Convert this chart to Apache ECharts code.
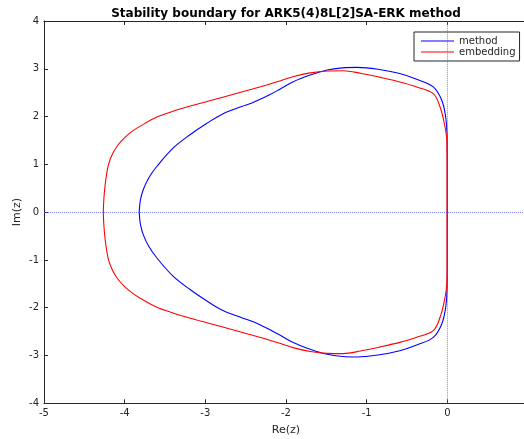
<!DOCTYPE html>
<html>
<head>
<meta charset="utf-8">
<script src="https://cdn.jsdelivr.net/npm/echarts@6/dist/echarts.min.js"></script>
<style>html,body{margin:0;padding:0;background:#fff}#c{width:524px;height:439px}</style>
</head>
<body>
<div id="c"></div>
<script>
const titleText = 'Stability boundary for ARK5(4)8L[2]SA-ERK method';
const xName = 'Re(z)';
const yName = 'Im(z)';
const seriesNames = ['method', 'embedding'];
const xTickLabels = ['-5', '-4', '-3', '-2', '-1', '0'];

// method (blue) boundary, traced around the closed curve
const methodRe = [-3.82, -3.805, -3.77, -3.70, -3.60, -3.40, -3.19, -2.98, -2.78, -2.55, -2.43, -2.32, -2.21, -2.10, -1.91, -1.70, -1.49, -1.30, -1.12, -0.86, -0.59, -0.38, -0.174, -0.069, -0.02, -0.003, 0.0, 0.0,
  0.0, -0.003, -0.02, -0.069, -0.174, -0.38, -0.59, -0.86, -1.12, -1.30, -1.49, -1.70, -1.91, -2.10, -2.21, -2.32, -2.43, -2.55, -2.78, -2.98, -3.19, -3.40, -3.60, -3.70, -3.77, -3.805, -3.82];
const methodIm = [0, 0.25, 0.47, 0.72, 0.96, 1.34, 1.62, 1.86, 2.06, 2.21, 2.28, 2.36, 2.45, 2.55, 2.73, 2.87, 2.975, 3.02, 3.03, 2.99, 2.90, 2.78, 2.62, 2.34, 1.99, 1.62, 1.0, 0.0,
  -1.0, -1.62, -1.99, -2.34, -2.62, -2.78, -2.90, -2.99, -3.03, -3.02, -2.975, -2.87, -2.73, -2.55, -2.45, -2.36, -2.28, -2.21, -2.06, -1.86, -1.62, -1.34, -0.96, -0.72, -0.47, -0.25, 0];

// embedding (red) boundary
const embedRe = [-4.265, -4.258, -4.244, -4.225, -4.20, -4.15, -4.08, -4.00, -3.90, -3.807, -3.60, -3.40, -3.186, -2.98, -2.773, -2.55, -2.317, -2.10, -1.903, -1.70, -1.488, -1.29, -1.075, -0.83, -0.59, -0.38, -0.174, -0.09, -0.037, -0.007, -0.004, -0.004,
  -0.004, -0.007, -0.037, -0.09, -0.174, -0.38, -0.59, -0.83, -1.075, -1.29, -1.488, -1.70, -1.903, -2.10, -2.317, -2.55, -2.773, -2.98, -3.186, -3.40, -3.60, -3.807, -3.90, -4.00, -4.08, -4.15, -4.20, -4.225, -4.244, -4.258, -4.265];
const embedIm = [0, 0.27, 0.54, 0.78, 1.0, 1.22, 1.41, 1.56, 1.70, 1.80, 1.99, 2.11, 2.22, 2.315, 2.41, 2.515, 2.625, 2.735, 2.84, 2.915, 2.955, 2.96, 2.906, 2.82, 2.725, 2.62, 2.48, 2.20, 1.855, 1.505, 1.0, 0,
  -1.0, -1.505, -1.855, -2.20, -2.48, -2.62, -2.725, -2.82, -2.906, -2.96, -2.955, -2.915, -2.84, -2.735, -2.625, -2.515, -2.41, -2.315, -2.22, -2.11, -1.99, -1.80, -1.70, -1.56, -1.41, -1.22, -1.0, -0.78, -0.54, -0.27, 0];

const toPairs = (xs, ys) => xs.map((x, i) => [x, ys[i]]);
const axisColor = '#262626';
const font = 'DejaVu Sans';
const lineIcon = 'path://M0,0 L33,0 L33,1.2 L0,1.2 Z';

const chart = echarts.init(document.getElementById('c'), null, {renderer: 'canvas'});
chart.setOption({
  animation: false,
  backgroundColor: '#fff',
  title: {
    text: titleText, left: 281, top: 3, textAlign: 'center',
    textStyle: {fontFamily: font, fontSize: 12, fontWeight: 'bold', color: '#000'}
  },
  legend: {
    orient: 'vertical', left: 414, top: 32,
    data: seriesNames.map(n => ({name: n, icon: lineIcon})),
    itemWidth: 33, itemHeight: 13, itemGap: 1, padding: [4, 4, 4, 7],
    backgroundColor: '#fff', borderColor: axisColor, borderWidth: 1,
    textStyle: {fontFamily: font, fontSize: 10, color: axisColor}
  },
  grid: {left: 44, top: 21, right: -4, bottom: 35.7, containLabel: false, outerBoundsMode: 'none'},
  xAxis: [{
    type: 'value', min: -5, max: 1, interval: 1,
    name: xName, nameLocation: 'middle', nameGap: 21, nameMoveOverlap: false,
    nameTextStyle: {fontFamily: font, fontSize: 11, color: axisColor},
    axisLine: {show: true, onZero: false, lineStyle: {color: axisColor, width: 1}},
    axisTick: {show: true, inside: true, length: 4, lineStyle: {color: axisColor}},
    axisLabel: {fontFamily: font, fontSize: 10, color: axisColor, margin: 5,
      formatter: v => { const i = Math.round(v + 5); return (i >= 0 && i < xTickLabels.length) ? xTickLabels[i] : ''; }},
    splitLine: {show: false}
  }, {
    type: 'value', min: -5, max: 1, interval: 1, position: 'top',
    axisLine: {show: true, onZero: false, lineStyle: {color: axisColor, width: 1}},
    axisTick: {show: true, inside: true, length: 4, lineStyle: {color: axisColor}},
    axisLabel: {show: false}, splitLine: {show: false}
  }],
  yAxis: [{
    type: 'value', min: -4, max: 4, interval: 1,
    name: yName, nameLocation: 'middle', nameGap: 21, nameRotate: 90, nameMoveOverlap: false,
    nameTextStyle: {fontFamily: font, fontSize: 11, color: axisColor},
    axisLine: {show: true, onZero: false, lineStyle: {color: axisColor, width: 1}},
    axisTick: {show: true, inside: true, length: 4, lineStyle: {color: axisColor}},
    axisLabel: {fontFamily: font, fontSize: 10, color: axisColor, margin: 5},
    splitLine: {show: false}
  }],
  series: [{
    type: 'line', name: 'axes', data: [], silent: true, z: 1,
    markLine: {
      silent: true, symbol: 'none', label: {show: false},
      lineStyle: {type: [1, 1], color: '#5555ff', width: 1, opacity: 0.75},
      data: [{xAxis: 0}, {yAxis: 0}]
    }
  }, {
    type: 'line', name: seriesNames[0], data: toPairs(methodRe, methodIm),
    symbol: 'none', smooth: 0.35, z: 3,
    lineStyle: {color: '#0000ff', width: 1.1}, itemStyle: {color: '#0000ff'}
  }, {
    type: 'line', name: seriesNames[1], data: toPairs(embedRe, embedIm),
    symbol: 'none', smooth: 0.35, z: 3,
    lineStyle: {color: '#ff0000', width: 1.1}, itemStyle: {color: '#ff0000'}
  }]
});
</script>
</body>
</html>
